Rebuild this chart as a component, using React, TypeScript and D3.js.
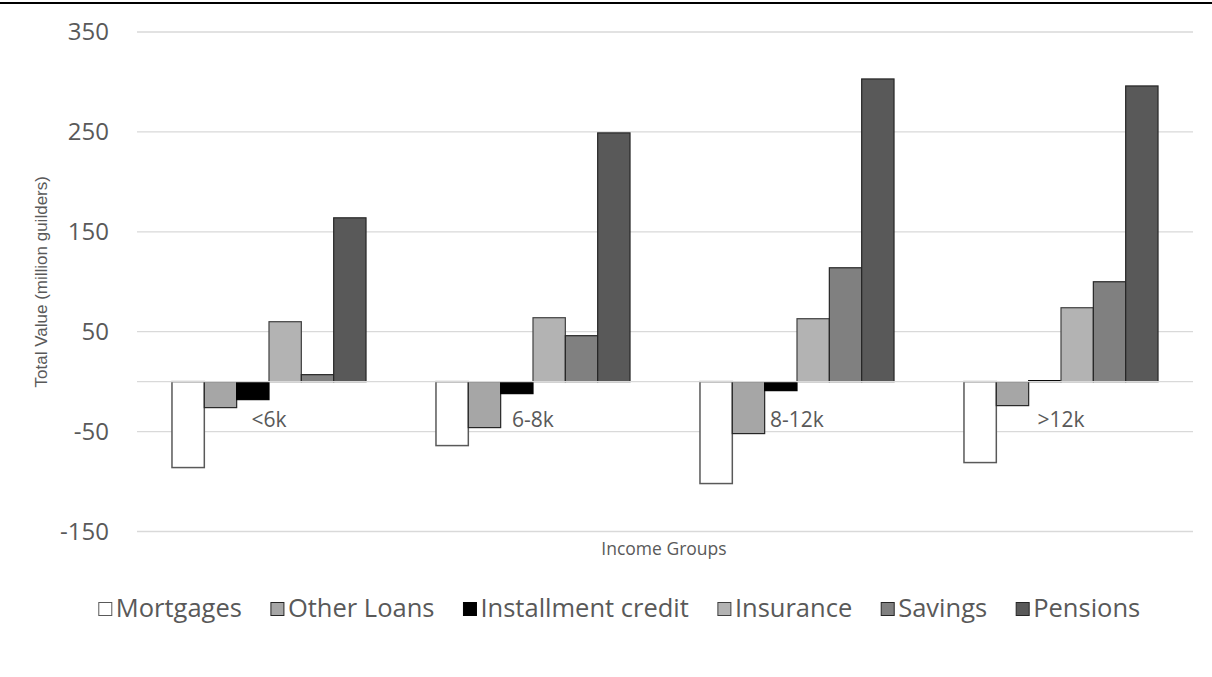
import React, { useEffect, useRef } from "react";
import * as d3 from "d3";

const categories = ["<6k", "6-8k", "8-12k", ">12k"];
const seriesNames = ["Mortgages", "Other Loans", "Installment credit", "Insurance", "Savings", "Pensions"];
const mortgages = [-86, -64, -102, -81];
const otherLoans = [-26, -46, -52, -24];
const installmentCredit = [-18, -12, -9, 1];
const insurance = [60, 64, 63, 74];
const savings = [7, 46, 114, 100];
const pensions = [164, 249, 303, 296];
const yTicks = [-150, -50, 50, 150, 250, 350];

const seriesValues = [mortgages, otherLoans, installmentCredit, insurance, savings, pensions];
const fills = ["#ffffff", "#a6a6a6", "#000000", "#b3b3b3", "#808080", "#595959"];
const strokes = ["#595959", "#262626", "#000000", "#404040", "#262626", "#262626"];

export default function App() {
  const ref = useRef<SVGSVGElement>(null);
  useEffect(() => {
    const svg = d3.select(ref.current);
    svg.selectAll("*").remove();
    const W = 1212;
    const left = 137, right = 1193, top = 32, bottom = 531.5;

    // top border
    svg.append("line").attr("x1", 0).attr("x2", W).attr("y1", 3).attr("y2", 3)
      .attr("stroke", "#000").attr("stroke-width", 2);

    const y = d3.scaleLinear().domain([-150, 350]).range([bottom, top]);
    const x = d3.scaleBand<string>().domain(categories).range([left, right])
      .paddingInner(0.265).paddingOuter(0.1325);
    const xs = d3.scaleBand<string>().domain(seriesNames).range([0, x.bandwidth()]).padding(0);

    // gridlines
    svg.append("g").selectAll("line").data(yTicks).join("line")
      .attr("x1", left).attr("x2", right)
      .attr("y1", d => y(d)).attr("y2", d => y(d))
      .attr("stroke", "#d9d9d9").attr("stroke-width", 1.3);

    // tick labels
    svg.append("g").selectAll("text").data(yTicks).join("text")
      .attr("x", 109).attr("y", d => y(d)).attr("dy", "0.35em")
      .attr("text-anchor", "end").attr("font-family", "Open Sans")
      .attr("font-size", 24).attr("fill", "#595959").text(d => String(d));

    // bars
    seriesNames.forEach((s, si) => {
      svg.append("g").selectAll("rect").data(seriesValues[si]).join("rect")
        .attr("x", (d, i) => (x(categories[i]) as number) + (xs(s) as number))
        .attr("width", xs.bandwidth())
        .attr("y", d => y(Math.max(0, d)))
        .attr("height", d => Math.abs(y(d) - y(0)))
        .attr("fill", fills[si])
        .attr("stroke", strokes[si])
        .attr("stroke-width", si === 0 ? 1.5 : 1.2);
    });

    // zero axis line
    svg.append("line").attr("x1", left).attr("x2", right)
      .attr("y1", y(0)).attr("y2", y(0))
      .attr("stroke", "#d9d9d9").attr("stroke-width", 1.3);

    // category labels
    svg.append("g").selectAll("text").data(categories).join("text")
      .attr("x", d => (x(d) as number) + x.bandwidth() / 2)
      .attr("y", y(0) + 45)
      .attr("text-anchor", "middle").attr("font-family", "Open Sans")
      .attr("font-size", 21).attr("fill", "#595959").text(d => d);

    // axis titles
    svg.append("text")
      .attr("transform", `translate(47,${(top + bottom) / 2}) rotate(-90)`)
      .attr("text-anchor", "middle").attr("font-family", "Liberation Sans")
      .attr("font-size", 17).attr("fill", "#595959")
      .text("Total Value (million guilders)");
    svg.append("text")
      .attr("x", 664).attr("y", 555)
      .attr("text-anchor", "middle").attr("font-family", "Open Sans")
      .attr("font-size", 17.5).attr("fill", "#595959").text("Income Groups");

    // legend
    const lg = svg.append("g");
    const items = seriesNames.map((name, i) => {
      const g = lg.append("g");
      g.append("rect").attr("x", 0).attr("y", -14.5).attr("width", 13).attr("height", 13)
        .attr("fill", fills[i]).attr("stroke", strokes[i]).attr("stroke-width", 1);
      const t = g.append("text").attr("x", 17).attr("y", 0)
        .attr("font-family", "Open Sans").attr("font-size", 25.5).attr("fill", "#595959").text(name);
      const w = (t.node() as SVGTextElement).getComputedTextLength();
      return { g, w: 17 + w };
    });
    const gap = 29;
    const total = d3.sum(items, d => d.w) + gap * (items.length - 1);
    let cx = 619.5 - total / 2;
    items.forEach(it => {
      it.g.attr("transform", `translate(${cx},617)`);
      cx += it.w + gap;
    });
  }, []);
  return (
    <svg ref={ref} width={1212} height={677}
      style={{ position: "absolute", left: 0, top: 0, background: "#fff" }} />
  );
}
